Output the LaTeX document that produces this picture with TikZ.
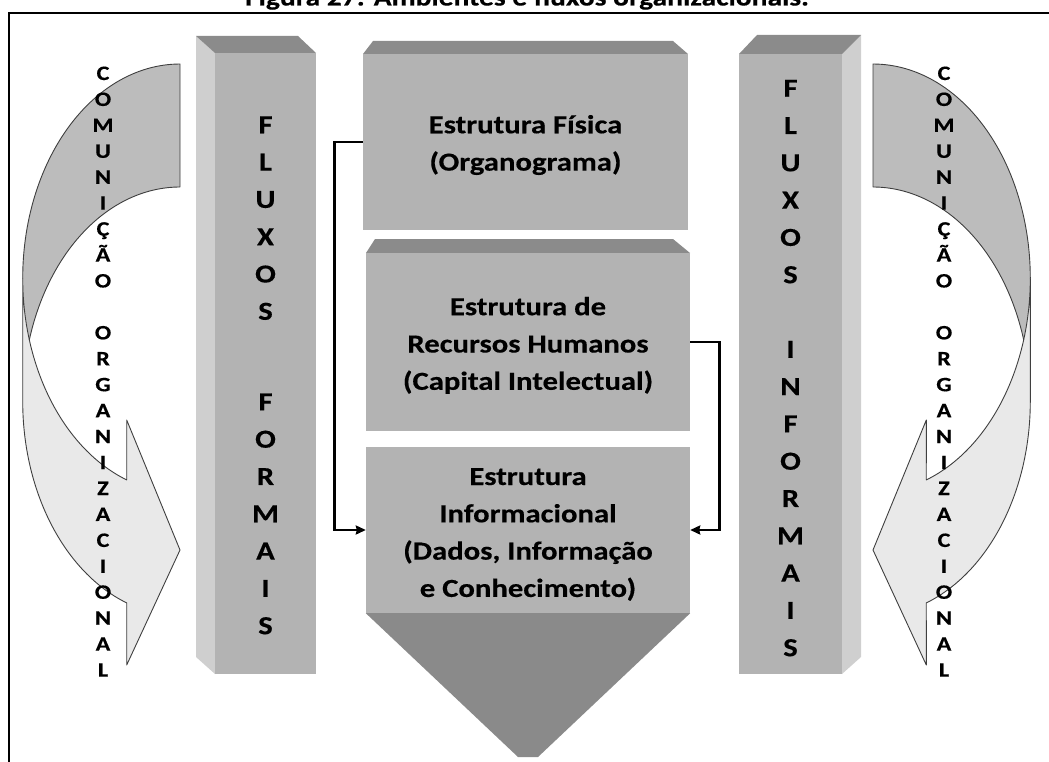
\documentclass[tikz,border=0pt]{standalone}
\usepackage{fontspec}
\newfontfamily\cfont{Carlito}[FakeStretch=1.18, BoldFeatures={FakeBold=0.4}]
\usetikzlibrary{arrows.meta}

\definecolor{frontgray}{HTML}{B3B3B3}
\definecolor{topgray}{HTML}{8B8B8B}
\definecolor{sidegray}{HTML}{CFCFCF}
\definecolor{tipgray}{HTML}{8A8A8A}
\definecolor{bandback}{HTML}{BCBCBC}
\definecolor{bandfront}{HTML}{E9E9E9}
\definecolor{bandedge}{HTML}{3F3F3F}

% one centred column of rows; the baseline is that of the first row
\newcommand{\stackrows}[1]{\begin{tabular}[t]{@{}c@{}}#1\end{tabular}}

% curved "communication" band with its head, in the left-hand position
\newcommand{\commband}{%
  \fill[bandback] (180,64)
    -- plot[domain=270:163.3] ({180+157.3*cos(\x)},{278.3+214.3*sin(\x)})
    -- plot[domain=196.7:270] ({180+157.3*cos(\x)},{401.3+214.3*sin(\x)})
    -- cycle;
  \fill[bandfront] (22.7,278.3)
    -- plot[domain=180:109.8] ({180+157.3*cos(\x)},{278.3+214.3*sin(\x)})
    -- (126.7,420) -- (180,550) -- (126.7,665)
    -- plot[domain=109.8:180] ({180+157.3*cos(\x)},{401.3+214.3*sin(\x)})
    -- cycle;
  \draw[bandline] (22.7,401.3) -- (22.7,278.3)
    -- plot[domain=180:109.8] ({180+157.3*cos(\x)},{278.3+214.3*sin(\x)})
    -- (126.7,420) -- (180,550) -- (126.7,665)
    -- plot[domain=109.8:180] ({180+157.3*cos(\x)},{401.3+214.3*sin(\x)});
  \draw[bandline]
    plot[domain=180:270] ({180+157.3*cos(\x)},{278.3+214.3*sin(\x)})
    -- (180,187)
    -- plot[domain=270:196.7] ({180+157.3*cos(\x)},{401.3+214.3*sin(\x)});
}

\tikzset{
  boxface/.style={fill=frontgray, draw=none, inner sep=0pt},
  toptrap/.style={fill=topgray, draw=none},
  sideface/.style={fill=sidegray, draw=none},
  bandline/.style={draw=bandedge, line width=0.9pt, line join=round},
  conn/.style={draw=black, line width=2.8pt,
    -{Stealth[length=10pt,width=9pt,inset=1pt]}},
  frameline/.style={draw=black, line width=2pt},
  lbl/.style={inner sep=0pt, anchor=base, text=black,
    font={\cfont\bfseries\fontsize{26}{37.3}\selectfont}},
  smallv/.style={inner sep=0pt, anchor=base, text=black,
    font={\cfont\bfseries\fontsize{20.5}{25.94}\selectfont}},
  titlelbl/.style={inner sep=0pt, anchor=base, text=black,
    font={\cfont\bfseries\fontsize{25}{30}\selectfont}},
}

\begin{document}
\begin{tikzpicture}[x=1pt, y=-1pt, samples=60]
\useasboundingbox (0,0) rectangle (1049,762);

% caption and frame
\node[titlelbl] (title) at (527,5.5) {Figura 27: Ambientes e fluxos organizacionais.};
\draw[frameline] (8.5,762) -- (8.5,13) -- (1049,13);

% communication bands on both sides
\commband
\begin{scope}[shift={(1053,0)}, xscale=-1]
  \commband
\end{scope}

% left pillar: formal flows
\fill[sideface] (196,36) -- (215,53) -- (215,674) -- (196,657) -- cycle;
\fill[toptrap] (196,36) -- (298,36) -- (316,53) -- (215,53) -- cycle;
\node[boxface, minimum width=101pt, minimum height=621pt] (lcol) at (265.5,363.5) {};

% right pillar: informal flows
\fill[sideface] (842,54) -- (861,35) -- (861,657) -- (842,674) -- cycle;
\fill[toptrap] (757,35) -- (861,35) -- (842,54) -- (739,54) -- cycle;
\node[boxface, minimum width=103pt, minimum height=620pt] (rcol) at (790.5,364) {};

% central stack of structures
\fill[toptrap] (373,41) -- (673,41) -- (688,54) -- (363,54) -- cycle;
\node[boxface, minimum width=325pt, minimum height=176pt] (b1) at (525.5,142) {};
\fill[toptrap] (375,239) -- (673,239) -- (690,253) -- (366,253) -- cycle;
\node[boxface, minimum width=324pt, minimum height=178pt] (b2) at (528,342) {};
\node[boxface, minimum width=324pt, minimum height=166pt] (b3) at (528,530) {};
\fill[tipgray] (b3.south west) -- (b3.south east) -- (538,757) -- (518,757) -- cycle;

% texts of the structures
\node[lbl] (t1) at (525.5,133.3) {\stackrows{Estrutura Física\\(Organograma)}};
\node[lbl] (t2) at (528,315.2) {\stackrows{Estrutura de\\Recursos Humanos\\(Capital Intelectual)}};
\node[lbl] (t3) at (528,485) {\stackrows{Estrutura\\Informacional\\(Dados, Informação\\e Conhecimento)}};

% pillar texts
\node[lbl] (lt) at (265.5,133.3) {\stackrows{F\\L\\U\\X\\O\\S\\[16pt] \\F\\O\\R\\M\\A\\I\\S}};
\node[lbl] (rt) at (790.5,96.7) {\stackrows{F\\L\\U\\X\\O\\S\\ \\I\\N\\F\\O\\R\\M\\A\\I\\S}};

% band texts
\node[smallv] (lc) at (103,80) {\stackrows{C\\O\\M\\U\\N\\I\\Ç\\Ã\\O\\ \\O\\R\\G\\A\\N\\I\\Z\\A\\C\\I\\O\\N\\A\\L}};
\node[smallv] (rc) at (944,80) {\stackrows{C\\O\\M\\U\\N\\I\\Ç\\Ã\\O\\ \\O\\R\\G\\A\\N\\I\\Z\\A\\C\\I\\O\\N\\A\\L}};

% feedback connectors into the informational structure
\draw[conn] (b1.west) -- ++(-28,0) |- (b3.west);
\draw[conn] (b2.east) -- ++(29,0) |- (b3.east);
\end{tikzpicture}
\end{document}
